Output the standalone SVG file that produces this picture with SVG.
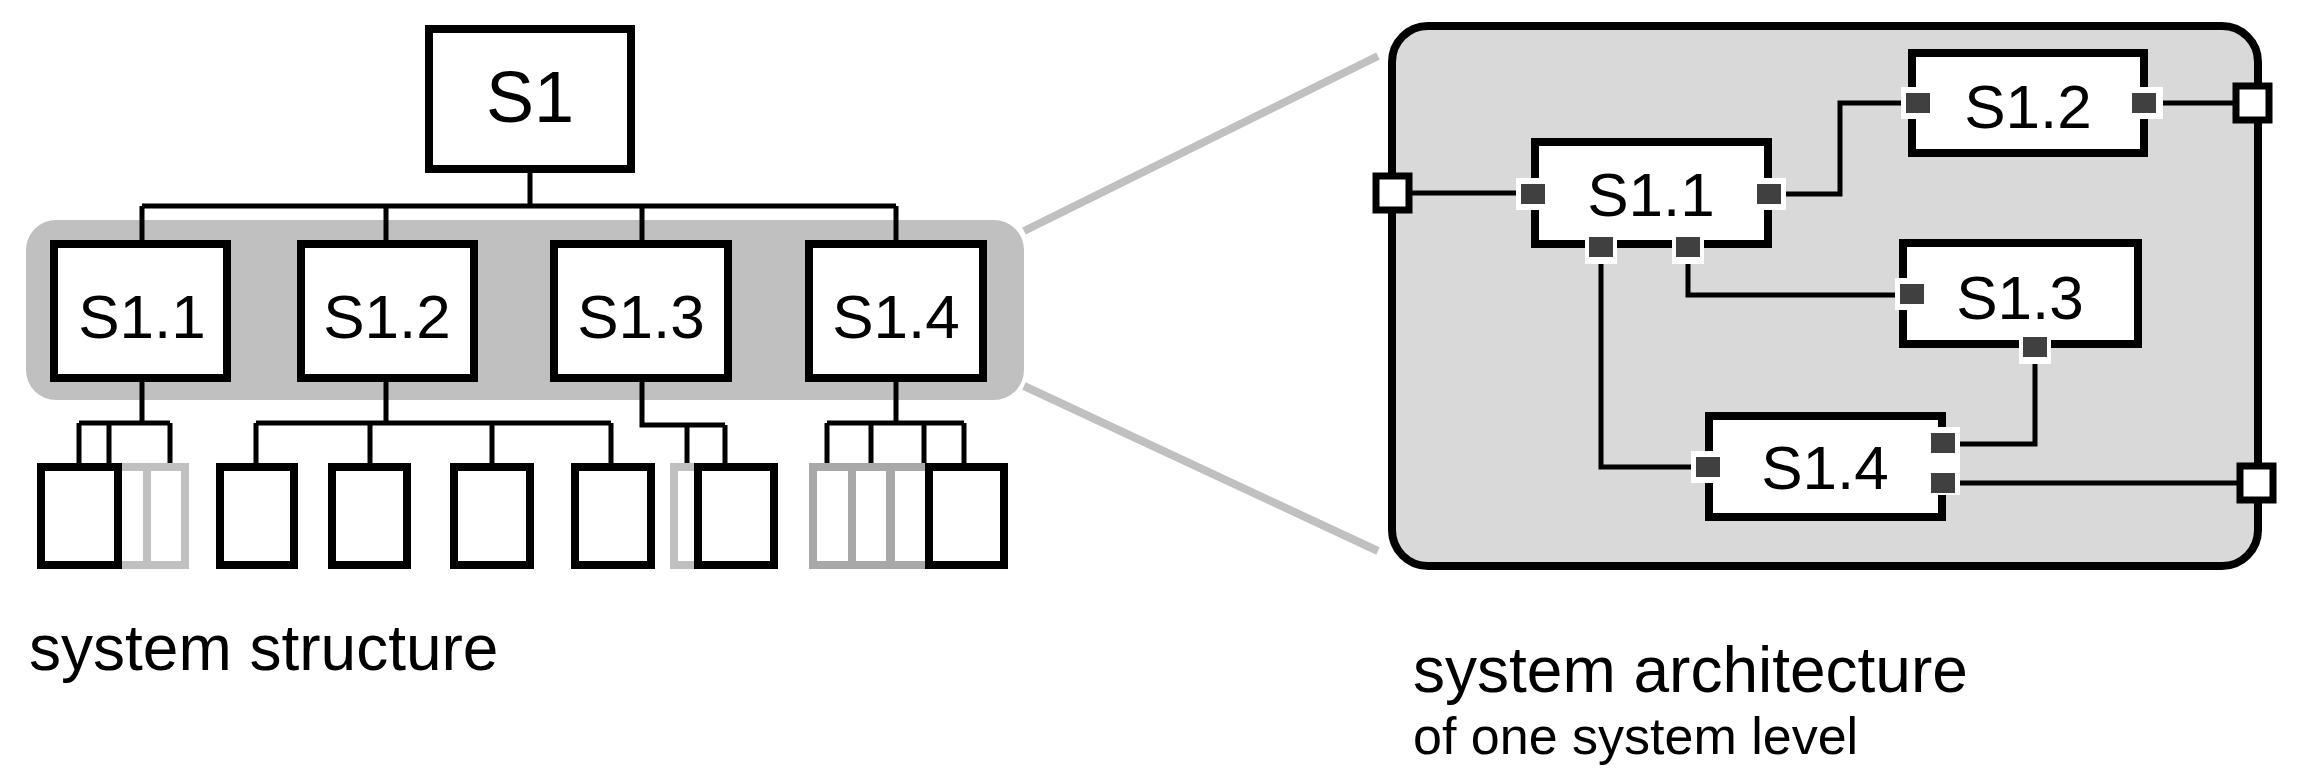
<svg xmlns="http://www.w3.org/2000/svg" width="2304" height="781" viewBox="0 0 2304 781">
<style>
.box{fill:#fff;stroke:#000;stroke-width:8}
.leaf{fill:#fff;stroke:#000;stroke-width:8}
.g1{fill:none;stroke:#c0c0c0;stroke-width:8}
.g2{fill:none;stroke:#a8a8a8;stroke-width:8}
.ln{fill:none;stroke:#000;stroke-width:5}
.t{font-family:"Liberation Sans",Arial,sans-serif;text-anchor:middle;fill:#000}
.lbl{font-family:"Liberation Sans",Arial,sans-serif;fill:#000}
.pw{fill:#fff}
.pd{fill:#404040}
.ext{fill:#fff;stroke:#000;stroke-width:7}
</style>
<rect width="2304" height="781" fill="#fff"/>
<g id="zoomlines" stroke="#c0c0c0" stroke-width="8">
<line x1="1024" y1="231" x2="1378" y2="56"/>
<line x1="1024" y1="386" x2="1378" y2="551"/>
</g>
<rect id="band" x="26" y="220" width="998" height="180" rx="30" fill="#c0c0c0"/>
<g id="connectors" class="ln">
<path d="M530 173V206M142 206H896M142 206V240M386 206V240M642 206V240M896 206V240"/>
<path d="M142 382V423M79 423H170M79 423V463M109 423V463M170 423V463"/>
<path d="M386 382V423M256 423H611M256 423V463M370 423V463M492 423V463M611 423V463"/>
<path d="M642 382V425H725M687 425V463M725 425V463"/>
<path d="M896 382V423M827 423H964M827 423V463M871 423V463M924 423V463M964 423V463"/>
</g>
<g id="S1"><rect class="box" x="429" y="29" width="202" height="140"/><text class="t" x="530" y="122" font-size="72">S1</text></g>
<g id="L-S1.1"><rect class="box" x="54" y="244" width="173" height="134"/><text class="t" x="142" y="338" font-size="62">S1.1</text></g>
<g id="L-S1.2"><rect class="box" x="301" y="244" width="173" height="134"/><text class="t" x="387" y="338" font-size="62">S1.2</text></g>
<g id="L-S1.3"><rect class="box" x="554" y="244" width="174" height="134"/><text class="t" x="641" y="338" font-size="62">S1.3</text></g>
<g id="L-S1.4"><rect class="box" x="809" y="244" width="174" height="134"/><text class="t" x="896" y="338" font-size="62">S1.4</text></g>
<g id="leaves1">
<rect class="g1" x="108" y="467" width="77" height="98"/>
<rect class="g1" x="70" y="467" width="77" height="98"/>
<rect class="leaf" x="41" y="467" width="77" height="98"/>
</g>
<g id="leaves2">
<rect class="leaf" x="220" y="467" width="74" height="98"/>
<rect class="leaf" x="332" y="467" width="75" height="98"/>
<rect class="leaf" x="454" y="467" width="76" height="98"/>
<rect class="leaf" x="575" y="467" width="76" height="98"/>
</g>
<g id="leaves3">
<rect class="g1" x="674" y="467" width="77" height="98"/>
<rect class="leaf" x="698" y="467" width="76" height="98"/>
</g>
<g id="leaves4">
<rect class="g2" x="891" y="467" width="77" height="98"/>
<rect class="g2" x="852" y="467" width="77" height="98"/>
<rect class="g2" x="813" y="467" width="77" height="98"/>
<rect class="leaf" x="929" y="467" width="75" height="98"/>
</g>
<rect id="panel" x="1392" y="26" width="866" height="540" rx="36" fill="#d9d9d9" stroke="#000" stroke-width="8"/>
<g id="arch-connectors" class="ln">
<path d="M1410 193H1523"/>
<path d="M1776 194H1840V103H1908"/>
<path d="M2153 103H2238"/>
<path d="M1688 254V295H1902"/>
<path d="M1601 254V467H1698"/>
<path d="M2035 354V444H1952"/>
<path d="M1952 483H2240"/>
</g>
<g id="R-S1.1"><rect class="box" x="1535" y="142" width="233" height="102"/><text class="t" x="1651" y="216" font-size="62">S1.1</text>
<rect class="pw" x="1516" y="178" width="34" height="32"/><rect class="pd" x="1521" y="184" width="24" height="20"/>
<rect class="pw" x="1752" y="178" width="34" height="32"/><rect class="pd" x="1757" y="184" width="24" height="20"/>
<rect class="pw" x="1585" y="236" width="32" height="28"/><rect class="pd" x="1589" y="237" width="24" height="20"/>
<rect class="pw" x="1672" y="236" width="32" height="28"/><rect class="pd" x="1676" y="237" width="24" height="20"/>
</g>
<g id="R-S1.2"><rect class="box" x="1912" y="53" width="232" height="100"/><text class="t" x="2028" y="128" font-size="62">S1.2</text>
<rect class="pw" x="1901" y="87" width="34" height="32"/><rect class="pd" x="1906" y="93" width="24" height="20"/>
<rect class="pw" x="2129" y="87" width="34" height="32"/><rect class="pd" x="2132" y="93" width="24" height="20"/>
</g>
<g id="R-S1.3"><rect class="box" x="1903" y="243" width="235" height="101"/><text class="t" x="2020" y="319" font-size="62">S1.3</text>
<rect class="pw" x="1895" y="278" width="34" height="32"/><rect class="pd" x="1900" y="284" width="24" height="20"/>
<rect class="pw" x="2019" y="336" width="32" height="28"/><rect class="pd" x="2023" y="337" width="24" height="20"/>
</g>
<g id="R-S1.4"><rect class="box" x="1709" y="416" width="233" height="101"/><text class="t" x="1825" y="489" font-size="62">S1.4</text>
<rect class="pw" x="1691" y="451" width="34" height="32"/><rect class="pd" x="1696" y="457" width="24" height="20"/>
<rect class="pw" x="1926" y="427" width="34" height="68"/><rect class="pd" x="1931" y="433" width="24" height="20"/><rect class="pd" x="1931" y="473" width="24" height="20"/>
</g>
<g id="ext-ports">
<rect class="ext" x="1376" y="176" width="33" height="34"/>
<rect class="ext" x="2236" y="86" width="33" height="34"/>
<rect class="ext" x="2240" y="466" width="33" height="34"/>
</g>
<text class="lbl" x="29" y="670" font-size="64">system structure</text>
<text class="lbl" x="1413" y="692" font-size="64">system architecture</text>
<text class="lbl" x="1413" y="754" font-size="52">of one system level</text>
</svg>
